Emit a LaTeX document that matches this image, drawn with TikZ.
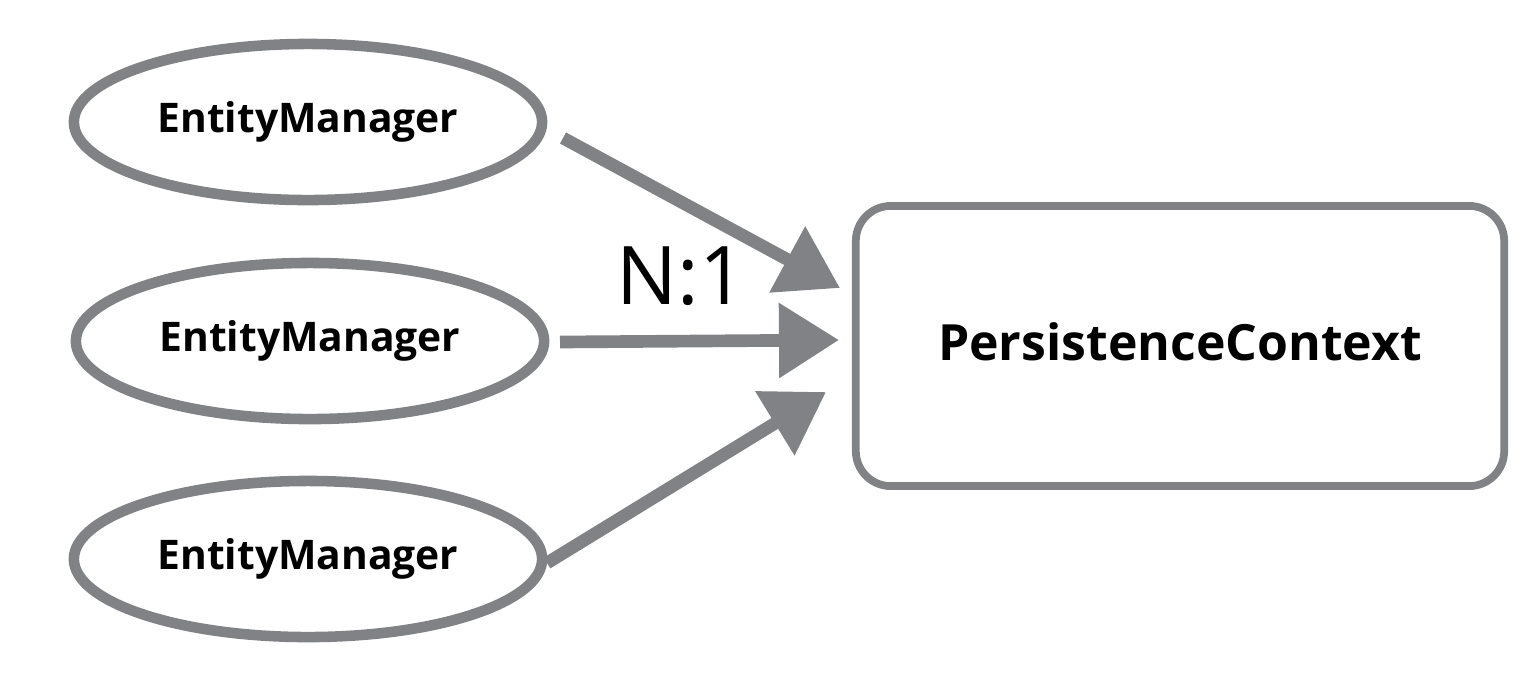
\documentclass[tikz,border=0pt]{standalone}
\usepackage{fontspec}
\setmainfont{Open Sans}
\usetikzlibrary{shapes.geometric,arrows.meta}
\definecolor{sketchgray}{RGB}{128,130,133}
\tikzset{
  em/.style={ellipse, draw=sketchgray, line width=3pt, minimum width=4.68cm, minimum height=1.56cm, inner sep=0pt, font=\bfseries\fontsize{11.6}{14}\selectfont},
  pc/.style={rectangle, rounded corners=0.35cm, draw=sketchgray, line width=2.2pt, minimum width=6.48cm, minimum height=2.8cm, font=\bfseries\fontsize{14.2}{17}\selectfont},
  arr/.style={draw=sketchgray, line width=3.6pt, -{Triangle[length=0.6cm,width=0.72cm,fill=sketchgray]}},
}
\begin{document}
\begin{tikzpicture}[x=0.01cm,y=-0.01cm]
\useasboundingbox (0,0) rectangle (1540,678);
\node[em] (e1) at (308,122) {\raisebox{-0.5ex}{EntityManager}};
\node[em] (e2) at (310,341) {\raisebox{-0.5ex}{EntityManager}};
\node[em] (e3) at (308,559) {\raisebox{-0.5ex}{EntityManager}};
\node[pc] (pcx) at (1180,346) {\raisebox{0.3ex}{PersistenceContext}};
\coordinate (s1) at (563,138);
\coordinate (t1) at (840,288);
\coordinate (s2) at (560,342);
\coordinate (t2) at (839,340);
\coordinate (s3) at (547,563);
\coordinate (t3) at (826,392);
\draw[arr] (s1) -- (t1);
\draw[arr] (s2) -- (t2);
\draw[arr] (s3) -- (t3);
\node[font=\fontsize{23}{26}\selectfont, inner sep=0pt] (lbl) at (681,276) {N:1};
\end{tikzpicture}
\end{document}
